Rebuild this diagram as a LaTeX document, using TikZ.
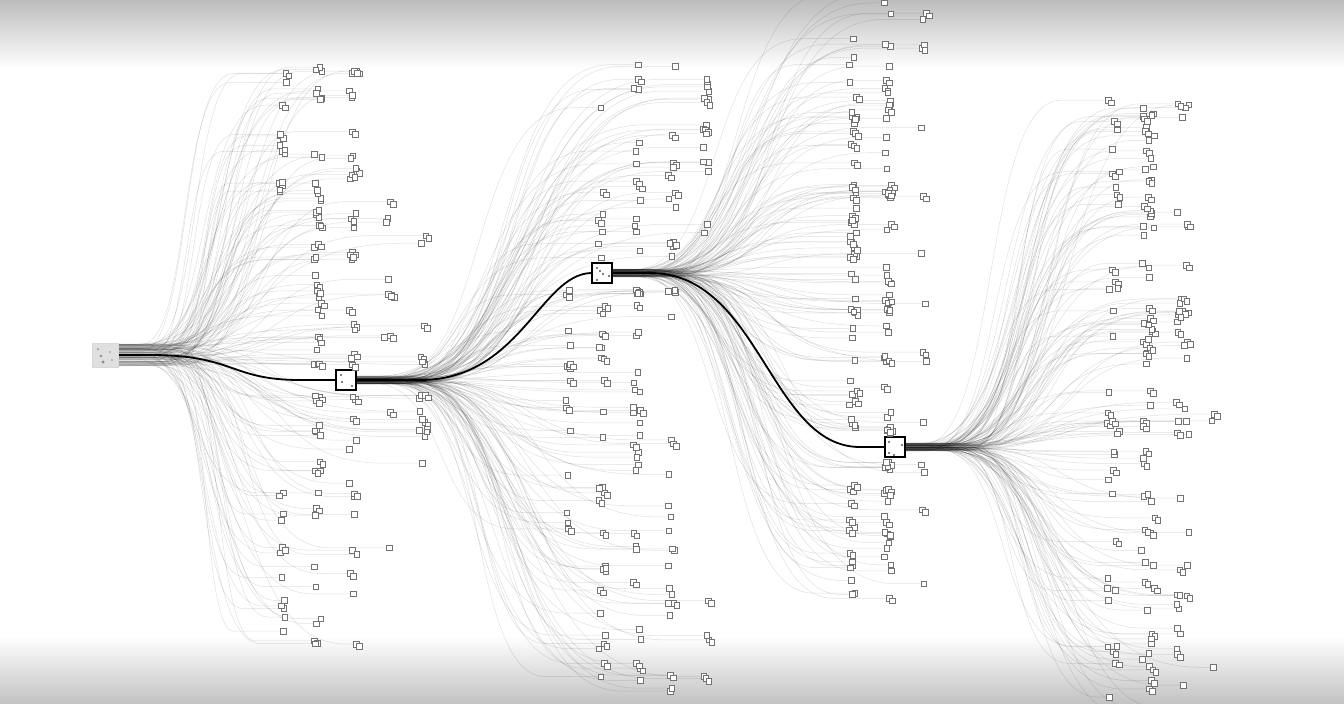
\documentclass[tikz,border=0pt]{standalone}
\usetikzlibrary{calc}
\pgfdeclarelayer{back}
\pgfdeclarelayer{bg}
\pgfsetlayers{back,bg,main}
\begin{document}
\begin{tikzpicture}[x=1pt,y=-1pt,
  leaf/.style={draw=black!55,fill=white,line width=0.6pt,minimum size=5.6pt,inner sep=0pt},
  hubbox/.style={draw=black,line width=2.4pt,fill=white,minimum size=20pt,inner sep=0pt},
  rootbox/.style={draw=black!15,fill=black!12,line width=0.5pt,minimum width=26pt,minimum height=24pt,inner sep=0pt},
  wire/.style={draw=black,opacity=0.12,line width=0.5pt},
  spine/.style={draw=black,line width=1.8pt}]
\useasboundingbox (0,0) rectangle (1344,704);
\begin{pgfonlayer}{back}
\fill[white] (0,0) rectangle (1344,704);
\shade[top color=black!26,bottom color=white] (0,0) rectangle (1344,68);
\shade[top color=white,bottom color=black!24] (0,636) rectangle (1344,704);
\end{pgfonlayer}
% hubs
\node[rootbox] (R) at (105,355) {};
\node[hubbox] (H1) at (346,380) {};
\node[hubbox] (H2) at (602,273) {};
\node[hubbox] (H3) at (895,447) {};
% dots inside hubs
\fill[black!45] (98,349) circle (1pt) (101,356) circle (1.4pt) (110,352) circle (0.8pt) (103,362) circle (1.6pt) (112,360) circle (0.8pt);
\fill (341,375) circle (0.9pt) (342,382) circle (0.9pt) (352,386) circle (0.9pt);
\fill (597,268) circle (0.8pt) (600,271) circle (0.9pt) (603,274) circle (0.9pt) (609,276) circle (0.8pt) (597,280) circle (0.8pt);
\fill (889,442) circle (0.8pt) (902,445) circle (0.9pt) (889,453) circle (0.8pt) (894,455) circle (0.8pt);
% leaves and curve geometry
\pgfmathsetseed{11}
\foreach \f/\hx/\hy/\ny/\sp/\ylo/\yhi/\xa/\jit/\bias/\ta/\tb/\tc/\td/\n in
  {0/118/355/380/22/62/650/283/4/0.5/0.2/0.62/0.9/0.98/150,
   1/357/380/273/8/62/692/567/4/-0.6/0.08/0.35/0.68/0.9/150,
   2/613/273/447/8/-10/605/853/4/0/0.47/0.93/1.1/1.1/150,
   3/906/447/-999/8/95/725/1113/7/0/0.25/0.65/0.95/1.1/150}{
  \foreach \i in {1,...,\n}{
    \pgfmathsetmacro\yraw{\ylo+rnd*(\yhi-\ylo)}
    \pgfmathsetmacro\yone{abs(\yraw-\ny)<15 ? (\yraw<\ny ? \ny-15-rnd*6 : \ny+15+rnd*6) : \yraw}
    \pgfmathsetmacro\near{max(0,1-abs(\yone-\hy)/250)}
    \pgfmathsetmacro\u{max(0,min(0.999,rnd+\bias*(\near-0.4)))}
    \pgfmathtruncatemacro\k{(\u>\ta)+(\u>\tb)+(\u>\tc)+(\u>\td)}
    \pgfmathsetmacro\xone{\xa+35*\k+(rnd-0.5)*2*\jit}
    \pgfmathsetmacro\yzero{\hy+(rnd-0.5)*\sp}
    \pgfmathsetmacro\xs{\hx+12+rnd*55}
    \pgfmathsetmacro\xe{max(\xone-10-rnd*50,\xs+40)}
    \pgfmathsetmacro\ca{\xs+0.55*(\xe-\xs)}
    \pgfmathsetmacro\cb{\xs+0.42*(\xe-\xs)}
    \coordinate (S\f-\i) at (\xs,\yzero);
    \coordinate (C\f-\i) at (\ca,\yzero);
    \coordinate (D\f-\i) at (\cb,\yone);
    \coordinate (E\f-\i) at (\xe,\yone);
    \node[leaf] (L\f-\i) at (\xone,\yone) {};
    \pgfmathtruncatemacro\dbl{rnd<0.3 ? 1 : 0}
    \ifnum\dbl=1 \node[leaf] (M\f-\i) at (\xone+3,\yone+2.5) {};\fi
  }
}
% curves
\begin{pgfonlayer}{bg}
\foreach \f/\hub in {0/R,1/H1,2/H2,3/H3}{
  \foreach \i in {1,...,150}{
    \draw[wire] (\hub.east |- S\f-\i) -- (S\f-\i) .. controls (C\f-\i) and (D\f-\i) .. (E\f-\i) -- (L\f-\i.west);
  }
}
\draw[spine] (R.east) -- (150,355) .. controls (235,355) and (230,380) .. (300,380) -- (H1.west);
\draw[spine] (H1.east) -- (420,380) .. controls (520,380) and (540,275) .. (H2.west);
\draw[spine] (H2.east) -- (650,273) .. controls (760,273) and (770,447) .. (860,447) -- (H3.west);
\end{pgfonlayer}
\end{tikzpicture}
\end{document}
